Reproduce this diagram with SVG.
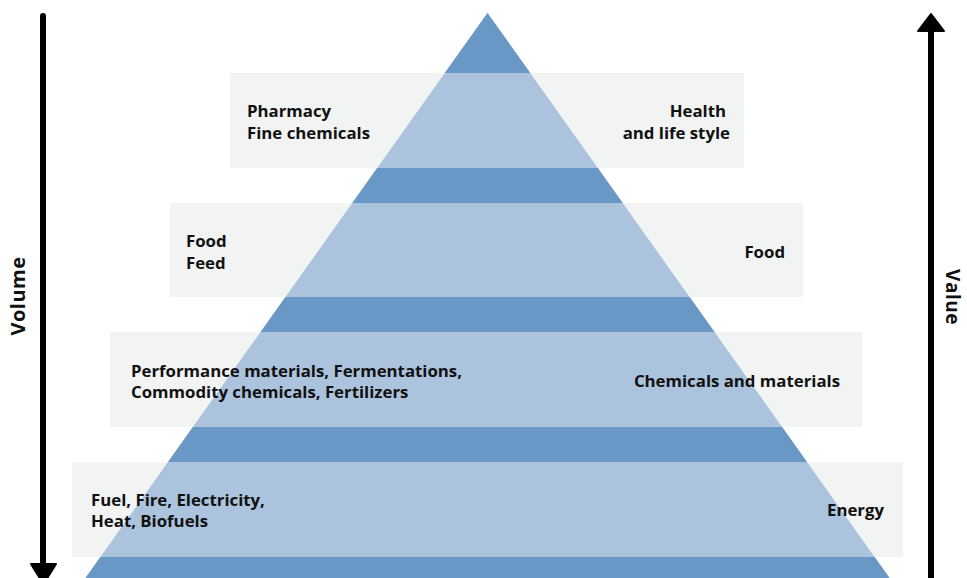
<svg xmlns="http://www.w3.org/2000/svg" width="967" height="578" viewBox="0 0 967 578">
<style>
.box{fill:#f2f3f3}
.dark{fill:#6a98c6}
.light{fill:#abc3dc}
.t{font-family:"Open Sans","Noto Sans","DejaVu Sans",sans-serif;font-weight:700;font-size:16.8px;fill:#111}
.r{text-anchor:end}
.ax{font-family:"Open Sans","Noto Sans","DejaVu Sans",sans-serif;font-weight:700;font-size:20px;fill:#111;text-anchor:middle;letter-spacing:0.5px}
.axl{stroke:#000;stroke-width:6;stroke-linecap:round;fill:none}
.head{fill:#000;stroke:#000;stroke-width:2;stroke-linejoin:round}
</style>
<defs>
<clipPath id="tri"><polygon points="487.5,13 69.8,600 905.2,600"/></clipPath>
</defs>
<rect width="967" height="578" fill="#fff"/>
<g id="boxes">
<rect class="box" x="230" y="73" width="514" height="95"/>
<rect class="box" x="170" y="203" width="633" height="94"/>
<rect class="box" x="110" y="332" width="752" height="95"/>
<rect class="box" x="72" y="462" width="831" height="95"/>
</g>
<g id="pyramid" clip-path="url(#tri)">
<rect class="light" x="0" y="0" width="967" height="600"/>
<rect class="dark" x="0" y="0" width="967" height="73"/>
<rect class="dark" x="0" y="168" width="967" height="35"/>
<rect class="dark" x="0" y="297" width="967" height="35"/>
<rect class="dark" x="0" y="427" width="967" height="35"/>
<rect class="dark" x="0" y="557" width="967" height="43"/>
</g>
<g id="tier1">
<text class="t" x="247" y="117">Pharmacy</text>
<text class="t" x="247" y="139">Fine chemicals</text>
<text class="t r" x="726" y="117">Health</text>
<text class="t r" x="730" y="139">and life style</text>
</g>
<g id="tier2">
<text class="t" x="186" y="247">Food</text>
<text class="t" x="186" y="269">Feed</text>
<text class="t r" x="785" y="258">Food</text>
</g>
<g id="tier3">
<text class="t" x="131" y="377">Performance materials, Fermentations,</text>
<text class="t" x="131" y="398">Commodity chemicals, Fertilizers</text>
<text class="t r" x="840" y="387">Chemicals and materials</text>
</g>
<g id="tier4">
<text class="t" x="91" y="506">Fuel, Fire, Electricity,</text>
<text class="t" x="91" y="527">Heat, Biofuels</text>
<text class="t r" x="884" y="516">Energy</text>
</g>
<g id="connectors">
<line class="axl" x1="43" y1="16" x2="43" y2="566"/>
<polygon class="head" points="31,564 56,564 43.5,584"/>
<line class="axl" x1="931" y1="30" x2="931" y2="590"/>
<polygon class="head" points="918,31 944,31 931,14"/>
</g>
<g id="axis-labels">
<text class="ax" transform="translate(25,296) rotate(-90)">Volume</text>
<text class="ax" transform="translate(946,297) rotate(90)" style="font-size:19px">Value</text>
</g>
</svg>
